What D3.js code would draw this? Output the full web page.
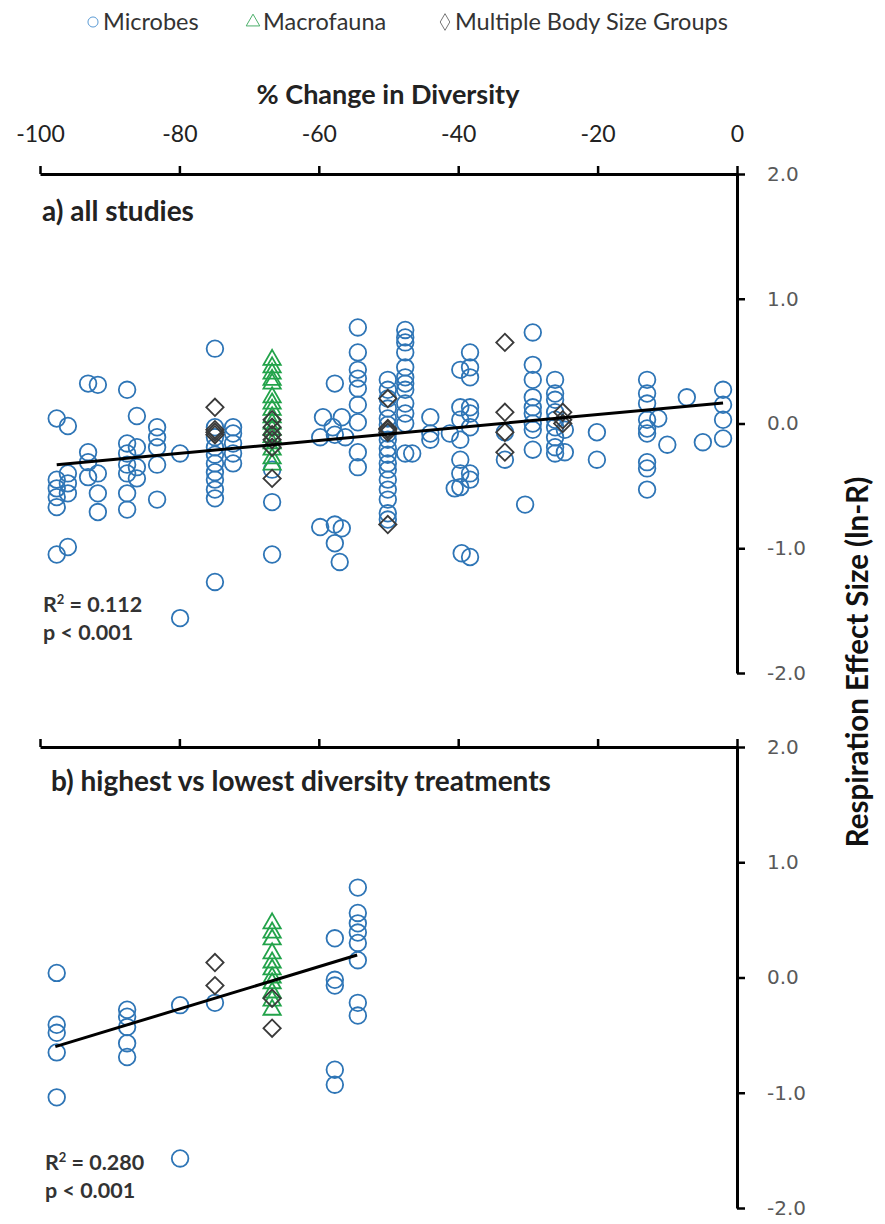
<!DOCTYPE html>
<html>
<head>
<meta charset="utf-8">
<script src="https://cdn.jsdelivr.net/npm/d3@7"></script>
<style>
  body { margin: 0; background: #fff; }
  svg { display: block; }
</style>
</head>
<body>
<svg id="chart" width="885" height="1224"></svg>
<script>
// tick values
const xTicks = [-100, -80, -60, -40, -20, 0];
const yTicks = [-2, -1, 0, 1, 2];

// panel a: [% change in diversity, [ln-R values...]]
const microbesA = [
  [-97.6, [0.04, -0.45, -0.52, -0.59, -0.67, -1.05]],
  [-96.0, [-0.02, -0.40, -0.48, -0.56, -0.99]],
  [-93.1, [0.32, -0.23, -0.31, -0.43]],
  [-91.7, [0.31, -0.40, -0.56, -0.71]],
  [-87.5, [0.27, -0.16, -0.24, -0.33, -0.40, -0.56, -0.69]],
  [-86.1, [0.06, -0.19, -0.35, -0.44]],
  [-83.2, [-0.03, -0.11, -0.19, -0.33, -0.61]],
  [-79.9, [-0.24, -1.56]],
  [-74.9, [0.60, -0.03, -0.11, -0.19, -0.25, -0.32, -0.39, -0.45, -0.53, -0.60, -1.27]],
  [-72.3, [-0.03, -0.08, -0.16, -0.24, -0.32]],
  [-66.7, [-0.37, -0.63, -1.05]],
  [-59.8, [-0.11, -0.83]],
  [-59.4, [0.05]],
  [-58.0, [-0.03]],
  [-57.7, [0.32, -0.09, -0.81, -0.96]],
  [-57.0, [-1.11]],
  [-56.7, [0.05, -0.84]],
  [-56.2, [-0.11]],
  [-54.4, [0.77, 0.57, 0.43, 0.36, 0.28, 0.15, 0.01, -0.23, -0.35]],
  [-50.1, [0.35, 0.27, 0.20, 0.12, 0.04, -0.01, -0.08, -0.13, -0.20, -0.25, -0.32, -0.37, -0.45, -0.53, -0.61, -0.72, -0.77]],
  [-47.6, [0.75, 0.69, 0.65, 0.57, 0.45, 0.37, 0.32, 0.27, 0.16, 0.08, 0.00, -0.24]],
  [-46.6, [-0.24]],
  [-44.0, [0.05, -0.08, -0.13]],
  [-41.2, [-0.08]],
  [-40.5, [-0.52]],
  [-39.7, [0.43, 0.13, 0.03, -0.13, -0.29, -0.40, -0.51]],
  [-39.5, [-1.04]],
  [-38.3, [0.57, 0.45, 0.37, 0.13, 0.08, -0.03, -0.40, -0.45, -1.07]],
  [-33.3, [-0.07, -0.29]],
  [-30.4, [-0.65]],
  [-29.3, [0.73, 0.47, 0.35, 0.21, 0.13, 0.08, 0.00, -0.05, -0.21]],
  [-26.1, [0.35, 0.24, 0.19, 0.09, 0.03, -0.03, -0.11, -0.19, -0.24]],
  [-24.7, [-0.05, -0.23]],
  [-20.1, [-0.07, -0.29]],
  [-12.9, [0.35, 0.24, 0.16, 0.03, -0.04, -0.08, -0.31, -0.36, -0.53]],
  [-11.3, [0.04]],
  [-10.0, [-0.17]],
  [-7.2, [0.21]],
  [-4.9, [-0.15]],
  [-2.0, [0.27, 0.15, 0.03, -0.12]]
];
const macrofaunaA = [
  [-66.7, [0.51, 0.45, 0.40, 0.35, 0.32, 0.21, 0.16, 0.11, 0.05, 0.00, -0.05, -0.11, -0.16, -0.21, -0.28, -0.33]]
];
const multiA = [
  [-74.9, [0.13, -0.05, -0.07, -0.09]],
  [-66.7, [0.03, -0.03, -0.09, -0.13, -0.19, -0.44]],
  [-50.1, [0.20, -0.04, -0.05, -0.07, -0.81]],
  [-33.3, [0.65, 0.09, -0.07, -0.23]],
  [-25.0, [0.09, 0.03, 0.00]]
];
const trendA = [[-97.6, -0.33], [-2.0, 0.165]];

// panel b
const microbesB = [
  [-97.6, [0.04, -0.41, -0.48, -0.65, -1.04]],
  [-87.5, [-0.28, -0.34, -0.43, -0.57, -0.69]],
  [-79.9, [-0.24, -1.57]],
  [-74.9, [-0.22]],
  [-57.7, [0.34, -0.02, -0.07, -0.80, -0.93]],
  [-54.4, [0.78, 0.56, 0.47, 0.39, 0.30, 0.15, -0.22, -0.33]]
];
const macrofaunaB = [
  [-66.7, [0.47, 0.39, 0.33, 0.21, 0.13, 0.07, 0.00, -0.05, -0.13, -0.20, -0.28]]
];
const multiB = [
  [-74.9, [0.13, -0.07]],
  [-66.7, [-0.18, -0.44]]
];
const trendB = [[-97.8, -0.60], [-54.5, 0.195]];

const legendLabels = ["Microbes", "Macrofauna", "Multiple Body Size Groups"];

const blue = "#2e75b6", green = "#22a34a", grey = "#3a3a3a";
const font = "Lato, 'Open Sans', sans-serif";

const svg = d3.select("#chart");
const x = d3.scaleLinear().domain([-100, 0]).range([40, 737]);

const flat = cols => cols.flatMap(([px, ys]) => ys.map(v => ({x: px, y: v})));

function panel(yRange, microbes, macro, multi, trend, showLabels) {
  const y = d3.scaleLinear().domain([-2, 2]).range(yRange);
  const top = yRange[1];

  const xa = svg.append("g")
    .attr("transform", `translate(0,${top})`)
    .call(d3.axisTop(x).tickValues(xTicks).tickSize(8).tickSizeOuter(0).tickPadding(24)
      .tickFormat(showLabels ? d => d : () => ""));
  xa.select(".domain").attr("stroke", "#000").attr("stroke-width", 3);
  xa.selectAll(".tick line").attr("stroke", "#000").attr("stroke-width", 2.5);
  xa.selectAll("text").attr("font-family", font).attr("font-size", 23).attr("fill", "#222");

  const ya = svg.append("g")
    .attr("transform", `translate(${x(0)},0)`)
    .call(d3.axisRight(y).tickValues(yTicks).tickSize(8).tickSizeOuter(0).tickPadding(22)
      .tickFormat(d => d.toFixed(1)));
  ya.select(".domain").attr("stroke", "#000").attr("stroke-width", 3);
  ya.selectAll(".tick line").attr("stroke", "#000").attr("stroke-width", 2.5);
  ya.selectAll("text").attr("font-family", "'DejaVu Sans', Verdana, sans-serif")
    .attr("font-size", 20).attr("fill", "#595959");

  svg.append("g").selectAll("circle")
    .data(flat(microbes)).join("circle")
    .attr("cx", d => x(d.x)).attr("cy", d => y(d.y)).attr("r", 8.3)
    .attr("fill", "none").attr("stroke", blue).attr("stroke-width", 1.8);

  const tri = d3.symbol(d3.symbolTriangle, 130);
  svg.append("g").selectAll("path")
    .data(flat(macro)).join("path")
    .attr("d", tri)
    .attr("transform", d => `translate(${x(d.x)},${y(d.y)})`)
    .attr("fill", "none").attr("stroke", green).attr("stroke-width", 1.8);

  const dia = d3.symbol(d3.symbolSquare, 150);
  svg.append("g").selectAll("path")
    .data(flat(multi)).join("path")
    .attr("d", dia)
    .attr("transform", d => `translate(${x(d.x)},${y(d.y)}) rotate(45)`)
    .attr("fill", "none").attr("stroke", grey).attr("stroke-width", 1.8);

  svg.append("path")
    .datum(trend)
    .attr("d", d3.line().x(d => x(d[0])).y(d => y(d[1])))
    .attr("fill", "none").attr("stroke", "#000").attr("stroke-width", 3);
}

panel([673, 174], microbesA, macrofaunaA, multiA, trendA, true);
panel([1208, 747], microbesB, macrofaunaB, multiB, trendB, false);

// legend
const legendX = [93, 253, 445];
const legendSym = [d3.symbolCircle, d3.symbolTriangle, d3.symbolDiamond];
const legendCol = ["#5b9bd5", "#4caf6a", "#777"];
const lg = svg.append("g").attr("transform", "translate(0,22)");
legendLabels.forEach((t, i) => {
  lg.append("path")
    .attr("d", d3.symbol(legendSym[i], 80)())
    .attr("transform", `translate(${legendX[i]},0)`)
    .attr("fill", "none").attr("stroke", legendCol[i]).attr("stroke-width", 1);
  lg.append("text")
    .attr("x", legendX[i] + 10).attr("y", 8)
    .attr("font-family", font).attr("font-size", 23.5).attr("fill", "#333")
    .text(t);
});

// titles and annotations
svg.append("text").attr("x", 388).attr("y", 104).attr("text-anchor", "middle")
  .attr("font-family", font).attr("font-size", 27).attr("font-weight", "bold").attr("fill", "#222")
  .text("% Change in Diversity");

svg.append("text").attr("x", 42).attr("y", 221)
  .attr("font-family", font).attr("font-size", 28).attr("font-weight", "bold").attr("fill", "#222")
  .text("a) all studies");
svg.append("text").attr("x", 51).attr("y", 791)
  .attr("font-family", font).attr("font-size", 28).attr("font-weight", "bold").attr("fill", "#222")
  .text("b) highest vs lowest diversity treatments");

function stats(x0, y0, r2) {
  const t = svg.append("text").attr("x", x0).attr("y", y0)
    .attr("font-family", font).attr("font-size", 21.5).attr("font-weight", "bold").attr("fill", "#333");
  t.append("tspan").text("R");
  t.append("tspan").attr("font-size", 13).attr("dy", -8).text("2");
  t.append("tspan").attr("dy", 8).text(" = " + r2);
  svg.append("text").attr("x", x0).attr("y", y0 + 28)
    .attr("font-family", font).attr("font-size", 21.5).attr("font-weight", "bold").attr("fill", "#333")
    .text("p < 0.001");
}
stats(43, 612, "0.112");
stats(45, 1170, "0.280");

svg.append("text")
  .attr("transform", "translate(868,662) rotate(-90)")
  .attr("text-anchor", "middle")
  .attr("font-family", font).attr("font-size", 29.5).attr("font-weight", "bold").attr("fill", "#111")
  .text("Respiration Effect Size (ln-R)");
</script>
</body>
</html>
